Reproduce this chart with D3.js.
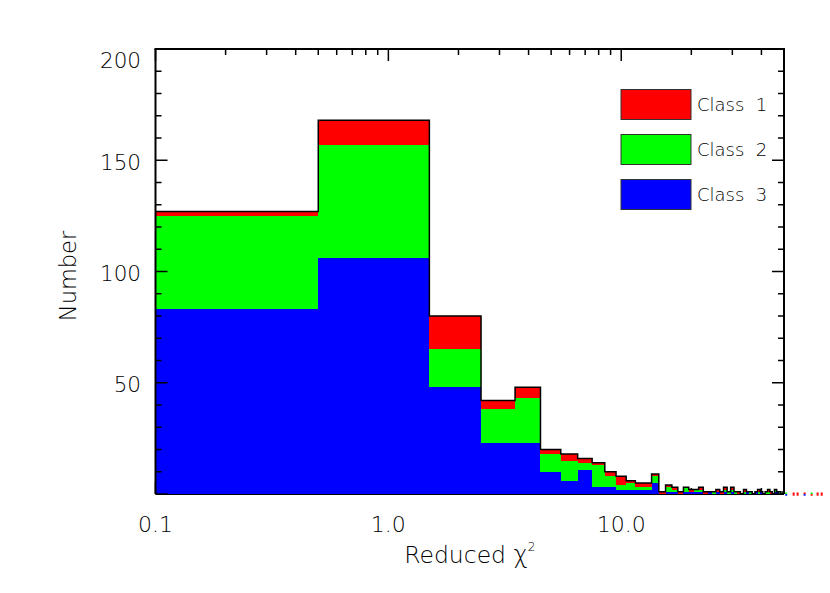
<!DOCTYPE html>
<html><head><meta charset="utf-8">
<script src="https://cdn.jsdelivr.net/npm/d3@7"></script>
<style>body{margin:0;background:#fff}svg{display:block}text{font-family:"DejaVu Sans",sans-serif;fill:#000}</style>
</head><body><svg id="c" width="830" height="593"></svg>
<script>
// ---- data ----
const binEdges = [0.1,0.5,1.5,2.5,3.5,4.5,5.5,6.5,7.5,8.5,9.5,10.5,11.5,12.5,13.5,14.5,15.5,16.5,17.5,18.5,19.5,20.5,21.5,22.5,23.5,24.5,25.5,26.5,27.5,28.5,29.5,30.5,31.5,32.5,33.5,34.5,35.5,36.5,37.5,38.5,39.5,40.5,41.5,42.5,43.5,44.5,45.5,46.5,47.5,48.5,49.5,50.5];
const class3 = [83,106,48,23,23, 10,6,11,3,3,2,2,2,2,5, 0,1,1,0,1,1,1,1,0,1, 0,1,0,1,0,1,0,0,0,0, 1,0,0,1,0,1,0,0,0,0, 0,1,1,0,0,0];
const class2 = [42,51,17,15,20, 8,9,3,10,5,2,3,1,1,3, 0,2,1,0,2,0,1,1,0,0, 1,0,0,1,1,1,1,0,0,1, 0,1,0,0,1,0,0,1,1,0, 0,1,0,1,0,0];
const class1 = [2,11,15,4,5, 2,3,2,1,2,4,1,2,2,1, 1,1,1,1,0,1,0,1,1,0, 0,1,1,1,0,1,0,1,0,1, 0,0,0,0,1,0,0,0,1,1, 0,0,0,0,0,1];
const classNames = ["Class  1","Class  2","Class  3"];
const classColors = ["#ff0000","#00ff00","#0000ff"];
// points drawn past the right axis (overflow bins)
const overflowX = [51.1,55.0,57.2,61.3,65.7,69.7,72.6];
const overflowTop = [1,0,0,0,1,0,0];   // class index for upper half (0=class1,1=class2,2=class3)
const overflowBot = [2,0,0,2,0,0,0];
const yMajor = [0,50,100,150,200];
const yMinor = [10,20,30,40,60,70,80,90,110,120,130,140,160,170,180,190];
const yLabels = ["","50","100","150","200"];
const xMajor = [0.1,1,10];
const xLabels = ["0.1","1.0","10.0"];
const xMinor = [0.2,0.3,0.4,0.5,0.6,0.7,0.8,0.9,2,3,4,5,6,7,8,9,20,30,40];

// ---- layout ----
const L=155.5, R=784, T=49, B=494;
const svg = d3.select("#c");
const x = d3.scaleLog().domain([0.1,50]).range([L,R]);
const y = d3.scaleLinear().domain([0,200]).range([B,T]);

const rows = class3.map((v,i)=>({x0:binEdges[i],x1:binEdges[i+1],c3:v,c2:class2[i],c1:class1[i]}));
const stack = d3.stack().keys(["c3","c2","c1"])(rows);
const keyColor = {c3:classColors[2],c2:classColors[1],c1:classColors[0]};

// bottom axis (drawn under bars)
const gB = svg.append("g");
gB.append("line").attr("x1",L).attr("x2",R).attr("y1",B).attr("y2",B).attr("stroke","#000").attr("stroke-width",2);
xMajor.forEach(v=>gB.append("line").attr("x1",x(v)).attr("x2",x(v)).attr("y1",B).attr("y2",B-12).attr("stroke","#000").attr("stroke-width",1.5));
xMinor.forEach(v=>gB.append("line").attr("x1",x(v)).attr("x2",x(v)).attr("y1",B).attr("y2",B-6).attr("stroke","#000").attr("stroke-width",1.5));

// bars
svg.append("clipPath").attr("id","clip").append("rect").attr("x",L).attr("y",0).attr("width",R-L).attr("height",600);
const gBars = svg.append("g").attr("clip-path","url(#clip)");
stack.forEach(layer=>{
  gBars.append("g").selectAll("rect").data(layer).join("rect")
    .attr("x",d=>x(d.data.x0)).attr("width",d=>x(d.data.x1)-x(d.data.x0))
    .attr("y",d=>y(d[1])).attr("height",d=>y(d[0])-y(d[1]))
    .attr("fill",keyColor[layer.key]).attr("shape-rendering","crispEdges");
});
// outline step
const pts=[];
rows.forEach(r=>{const t=r.c1+r.c2+r.c3; pts.push([x(r.x0),y(t)]); pts.push([x(r.x1),y(t)]);});
gBars.append("path").attr("d",d3.line()(pts)).attr("fill","none").attr("stroke","#000").attr("stroke-width",1.5);

// overflow dots beyond axis
overflowX.forEach((v,i)=>{
  svg.append("rect").attr("x",x(v)-1).attr("y",B-1.5).attr("width",2).attr("height",1.6).attr("fill",classColors[overflowTop[i]]);
  svg.append("rect").attr("x",x(v)-1).attr("y",B+0.1).attr("width",2).attr("height",1.6).attr("fill",classColors[overflowBot[i]]);
});

// frame: left, right, top
const gA = svg.append("g").attr("stroke","#000");
gA.append("line").attr("x1",L).attr("x2",L).attr("y1",T).attr("y2",B).attr("stroke-width",2);
gA.append("line").attr("x1",R).attr("x2",R).attr("y1",T).attr("y2",B).attr("stroke-width",2);
gA.append("line").attr("x1",L-1).attr("x2",R+1).attr("y1",T).attr("y2",T).attr("stroke-width",2);
yMajor.forEach(v=>{
  gA.append("line").attr("x1",L).attr("x2",L+12).attr("y1",y(v)).attr("y2",y(v)).attr("stroke-width",1.5);
  gA.append("line").attr("x1",R).attr("x2",R-12).attr("y1",y(v)).attr("y2",y(v)).attr("stroke-width",1.5);
});
yMinor.forEach(v=>{
  gA.append("line").attr("x1",L).attr("x2",L+6).attr("y1",y(v)).attr("y2",y(v)).attr("stroke-width",1.5);
  gA.append("line").attr("x1",R).attr("x2",R-6).attr("y1",y(v)).attr("y2",y(v)).attr("stroke-width",1.5);
});
xMajor.forEach(v=>gA.append("line").attr("x1",x(v)).attr("x2",x(v)).attr("y1",T).attr("y2",T+12).attr("stroke-width",1.5));
xMinor.forEach(v=>gA.append("line").attr("x1",x(v)).attr("x2",x(v)).attr("y1",T).attr("y2",T+6).attr("stroke-width",1.5));

// tick labels
yMajor.forEach((v,i)=>{
  if(!yLabels[i]) return;
  svg.append("text").attr("x",141).attr("y",Math.max(y(v),58)+2).attr("dy","0.35em")
    .attr("text-anchor","end").attr("font-size",21.5).attr("font-weight",300).text(yLabels[i]);
});
xMajor.forEach((v,i)=>{
  svg.append("text").attr("x",x(v)).attr("y",532).attr("text-anchor","middle")
    .attr("font-size",22).attr("font-weight",300).text(xLabels[i]);
});
// axis titles
const xt = svg.append("text").attr("x",(L+R)/2).attr("y",563).attr("text-anchor","middle").attr("font-size",23.5).attr("font-weight",300);
xt.append("tspan").text("Reduced ");
xt.append("tspan").attr("font-size",24).text("χ");
xt.append("tspan").attr("font-size",12).attr("dy",-12).text("2");
svg.append("text").attr("transform","translate(76,276) rotate(-90)").attr("text-anchor","middle")
  .attr("font-size",22.5).attr("font-weight",300).text("Number");

// legend
classNames.forEach((n,i)=>{
  const yy = 89.5 + i*45;
  svg.append("rect").attr("x",621).attr("y",yy).attr("width",70).attr("height",30)
    .attr("fill",classColors[i]).attr("stroke","#333").attr("stroke-width",1);
  svg.append("text").attr("x",697).attr("y",yy+21).attr("font-size",18).attr("font-weight",300)
    .attr("xml:space","preserve").style("white-space","pre").text(n);
});
</script></body></html>
